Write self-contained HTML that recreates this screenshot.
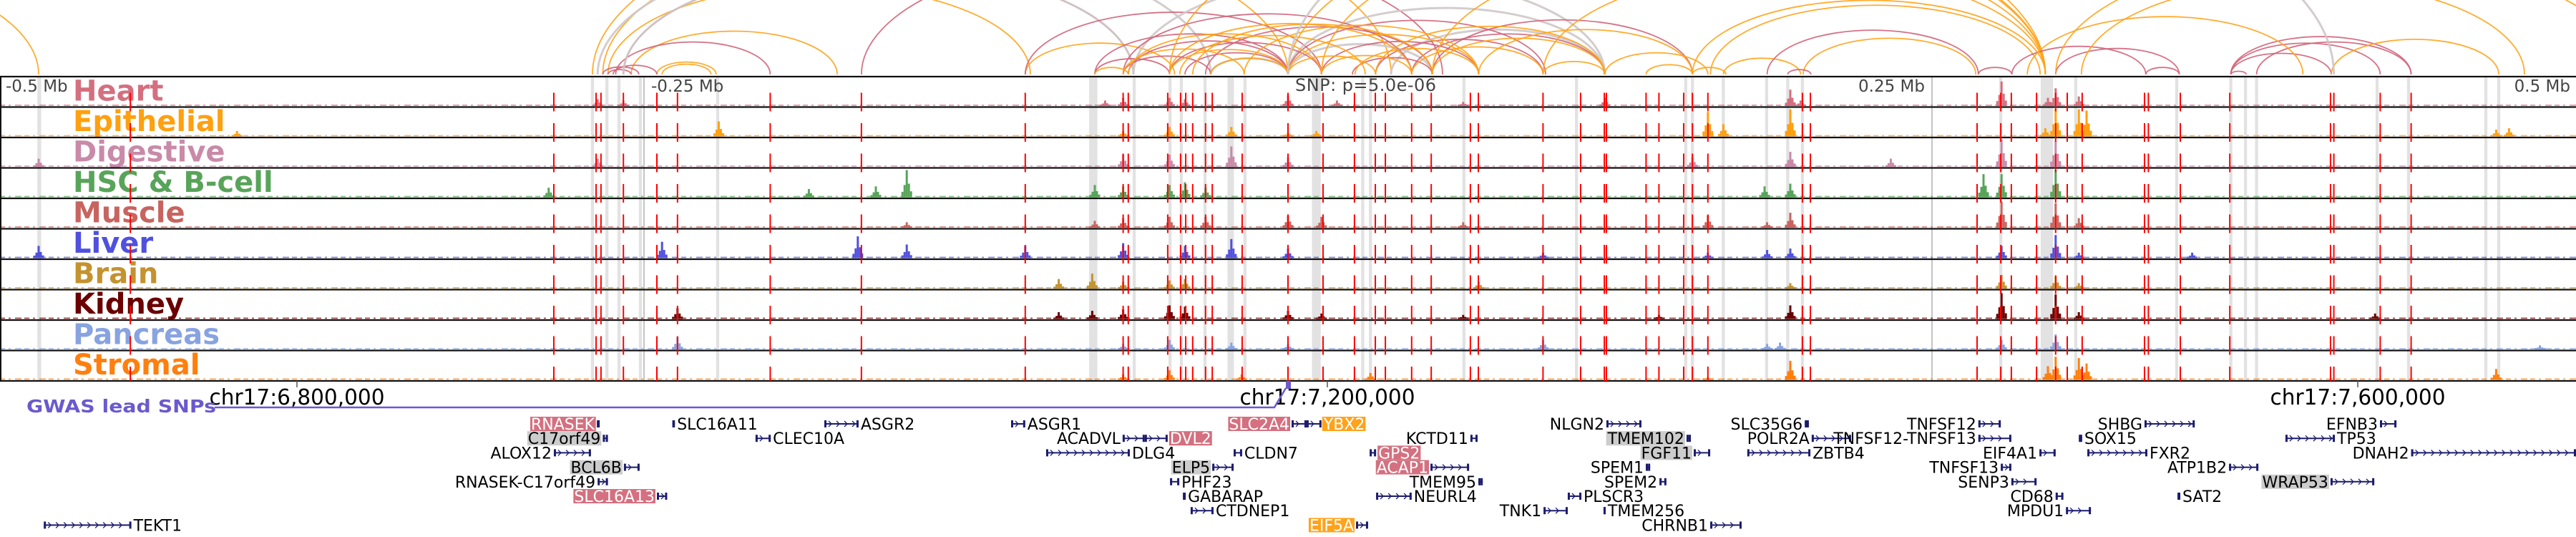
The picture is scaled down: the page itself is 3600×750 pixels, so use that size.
<!DOCTYPE html>
<html><head><meta charset="utf-8">
<style>
html,body{margin:0;padding:0;background:#fff;}
svg{display:block;font-family:"DejaVu Sans","Liberation Sans",sans-serif;}
</style></head>
<body>
<svg id="fig" width="3600" height="750" viewBox="0 0 3600 750" xmlns="http://www.w3.org/2000/svg">
  <g id="arcs"></g>
  <g id="bands"></g>
  <g id="tracks"></g>
  <g id="snps"></g>
  <g id="axes"></g>
  <g id="genes"></g>
</svg>
<script>
// ---- data (positions in kb relative to lead SNP) ----
const trackNames = ["Heart","Epithelial","Digestive","HSC & B-cell","Muscle","Liver","Brain","Kidney","Pancreas","Stromal"];
const trackColors = ["#d46f80","#ffa010","#c98aa8","#58a45a","#c8645f","#5050e0","#c4922e","#6a0000","#88a3e0","#ff7f0e"];
const heartPeaks = [[-268,0.25],[-258,0.2],[-71,0.2],[-64,0.3],[-46,0.3],[-40,0.25],[0,0.4],[19,0.2],[68,0.15],[123,0.3],[195,0.6],[199,0.2],[277,0.9],[295,0.3],[298,0.65],[307,0.35]];
const epithelialPeaks = [[-408,0.2],[-221,0.55],[-64,0.2],[-46,0.35],[-22,0.35],[0,0.15],[11,0.2],[163,0.9],[169,0.45],[195,1.0],[294,0.3],[298,1.0],[307,1.0],[310,0.95],[469,0.25],[474,0.3]];
const digestivePeaks = [[-485,0.3],[-268,0.3],[-64,0.45],[-46,0.45],[-22,0.75],[0,0.35],[157,0.35],[195,0.55],[234,0.3],[277,1.0],[298,0.95]];
const hscPeaks = [[-287,0.35],[-186,0.3],[-160,0.4],[-148,1.0],[-75,0.45],[-64,0.4],[-46,0.45],[-40,0.55],[-32,0.35],[185,0.4],[195,0.5],[270,0.85],[277,0.85],[298,1.0]];
const musclePeaks = [[-148,0.2],[-75,0.25],[-64,0.35],[-46,0.4],[-32,0.4],[0,0.45],[13,0.4],[68,0.2],[163,0.45],[186,0.2],[195,0.55],[277,0.95],[298,0.9],[307,0.35]];
const liverPeaks = [[-485,0.45],[-243,0.6],[-167,0.8],[-148,0.5],[-102,0.45],[-64,0.55],[-40,0.45],[-22,0.7],[0,0.35],[99,0.2],[163,0.2],[186,0.3],[195,0.35],[277,0.45],[298,0.85],[307,0.2],[351,0.2]];
const brainPeaks = [[-89,0.35],[-76,0.55],[-64,0.25],[-46,0.3],[-40,0.35],[74,0.25],[195,0.2],[277,0.5],[298,0.45],[307,0.2]];
const kidneyPeaks = [[-237,0.4],[-89,0.25],[-76,0.3],[-64,0.35],[-46,0.5],[-40,0.45],[0,0.3],[13,0.2],[68,0.15],[144,0.15],[195,0.5],[277,0.95],[298,0.9],[307,0.25],[422,0.2]];
const pancreasPeaks = [[-237,0.45],[-64,0.2],[-46,0.35],[-22,0.25],[0,0.2],[99,0.35],[186,0.2],[191,0.25],[277,0.35],[298,0.55],[486,0.15]];
const stromalPeaks = [[-64,0.2],[-46,0.35],[-18,0.2],[32,0.25],[163,0.1],[195,0.7],[295,0.5],[298,0.85],[307,0.8],[310,0.6],[469,0.4]];
const allPeaks = [heartPeaks,epithelialPeaks,digestivePeaks,hscPeaks,musclePeaks,liverPeaks,brainPeaks,kidneyPeaks,pancreasPeaks,stromalPeaks];

const snpPositions = [-449.4,-285,-268.6,-266.7,-258,-245,-237,-201,-165.6,-102,-64,-62,-46.7,-41.7,-39.7,-37,-32,-29.4,-17.8,0,13.6,25.8,33.9,37.8,48,55.6,70.8,73.9,99,113.6,122.8,123.6,139,144,153.6,157,163,199.7,202.8,267.5,276.7,280.8,290.6,298,302.5,308.3,332.5,334,346.4,365.6,404.7,406,424,436];
const bandRanges = [[-485.5,-484],[-270.6,-269.4],[-265,-263.8],[-260.3,-259.1],[-252,-250.8],[-222,-220.8],[-77.2,-74],[-60.3,-59.1],[-46.4,-45.2],[-42,-40.8],[-32.8,-31.6],[-23.5,-21],[-17.3,-16.1],[9.3,12.7],[28.4,29.6],[31.4,32.6],[67.7,68.9],[111.4,112.6],[153.8,155],[156.4,157.6],[168.4,169.6],[185.2,186.4],[193.4,194.6],[199.1,200.3],[276.1,277.3],[292.2,297],[305.2,306.4],[344.4,345.6],[365.4,366.6],[371.1,372.3],[375.4,376.6],[422.2,423.4],[434.4,435.6],[464.4,465.6],[469.4,470.6]];

const arcStarts = [-700,-270,-266,-264,-255,-245,-243,-261,-266,-264,-262,-258,-268,-258,-165.6,-102,-102,0,-30,0,-60,40,-64,-64,-62,-46,-40,-32,13,25,34,48,56,0,-75,-75,-75,-64,-46,-42,-37,-30,-17,0,0,13,26,34,48,56,74,99,123,139,157,-62,-46,0,-46,13,56,99,157,164,169,200,186,194,268,281,298,333,366,366,366,376,366,405,287,308,0,298];
const arcEnds   = [-485,40,0,-100,-175,-222,-224,-201,-252,-255,-245,-60,-30,-60,60,-44,13,56,0,122.8,123,123,48,-30,0,13,0,56,74,56,99,123,157,100,-46,0,-62,-17,0,30,56,0,74,34,74,48,74,123,99,123,157,123,163,157,170,13,48,294,294,294,294,294,294,292,199,267,268,203,281,333,346,346,405,424,436,436,372,470,394,480,406,520];
const arcTypes  = ["o","o","o","o","o","o","o","p","p","p","p","p","g","g","p","o","p","g","g","g","g","g","p","p","p","p","p","p","p","p","p","p","p","p","p","p","o","o","o","o","o","o","o","o","o","o","o","o","o","o","o","o","o","o","o","o","o","o","o","o","o","o","o","o","o","o","p","p","p","p","p","p","p","p","p","p","p","o","o","o","g","o"];

const relTicks = [-0.5,-0.25,0.25,0.5];
const chrTicks = [6800000,7200000,7600000];
const leadSnpGenomic = 7184722;

// genes: [name, startKb, endKb, row, labelSide, highlight]
const genes = [
 ["TEKT1",-483,-449,7,"r",""],["RNASEK",-268.3,-267.2,0,"l","pink"],["C17orf49",-266,-264,1,"l","gray"],
 ["ALOX12",-285,-270.6,2,"l",""],["BCL6B",-257.8,-251.7,3,"l","gray"],["RNASEK-C17orf49",-268,-264,4,"l",""],
 ["SLC16A13",-245,-241,5,"l","pink"],["SLC16A11",-239,-238,0,"r",""],["CLEC10A",-206.7,-200.8,1,"r",""],
 ["ASGR2",-180,-166.7,0,"r",""],["ASGR1",-107.5,-102,0,"r",""],["SLC2A4",1.4,7.2,0,"l","pink"],
 ["YBX2",7.2,13,0,"r","orange"],["ACADVL",-64.2,-55.6,1,"l",""],["DVL2",-55.6,-46.7,1,"r","pink"],
 ["DLG4",-93.9,-61.4,2,"r",""],["CLDN7",-21.1,-17.8,2,"r",""],["ELP5",-29.4,-21.1,3,"l","gray"],
 ["PHF23",-45.8,-42.2,4,"r",""],["GABARAP",-40.8,-39.7,5,"r",""],["CTDNEP1",-37.8,-28.9,6,"r",""],
 ["EIF5A",26.4,31.1,7,"l","orange"],["KCTD11",70.8,73.6,1,"l",""],["GPS2",31.7,34.2,2,"r","pink"],
 ["ACAP1",55.3,70.3,3,"l","pink"],["TMEM95",73.9,75.6,4,"l",""],["NEURL4",34.2,48,5,"r",""],
 ["NLGN2",123.6,137.2,0,"l",""],["TMEM102",154.7,156.4,1,"l","gray"],["FGF11",157.5,163.9,2,"l","gray"],
 ["SPEM1",138.9,140.6,3,"l",""],["SPEM2",144.2,146.9,4,"l",""],["PLSCR3",108.6,113.9,5,"r",""],
 ["TNK1",99.2,108.6,6,"l",""],["TMEM256",122.5,123.3,6,"r",""],["CHRNB1",163.9,176.1,7,"l",""],
 ["SLC35G6",200.6,202.2,0,"l",""],["POLR2A",203.3,218.6,1,"l",""],["TNFSF12-TNFSF13",268,280.8,1,"l",""],
 ["ZBTB4",178.3,202.8,2,"r",""],["TNFSF12",268,276.7,0,"l",""],["EIF4A1",291.7,298,2,"l",""],
 ["TNFSF13",276.7,280.8,3,"l",""],["SENP3",280.8,290.6,4,"l",""],["CD68",298,301,5,"l",""],
 ["MPDU1",302,311.7,6,"l",""],["SHBG",332.5,352,0,"l",""],["SOX15",307,308.3,1,"r",""],
 ["FXR2",310.3,333.6,2,"r",""],["ATP1B2",365.3,376.7,3,"l",""],["SAT2",345.3,346.4,5,"r",""],
 ["WRAP53",404.7,421.7,4,"l","gray"],["EFNB3",423.9,430.3,0,"l",""],["TP53",387.2,406.4,1,"r",""],
 ["DNAH2",436,520,2,"l",""]
];

// ---- scales ----
const NS = "http://www.w3.org/2000/svg";
const PX_PER_KB = 3.6, X0 = 1800;
function xs(kb){ return X0 + kb*PX_PER_KB; }
const trackTop = 107, trackH = 42.5, nTracks = 10;
function trackBottom(i){ return trackTop + (i+1)*trackH; }
function yRow(r){ return 592 + r*20.2; }
function mk(tag, attrs, parent){
  const e = document.createElementNS(NS, tag);
  for (const k in attrs) e.setAttribute(k, attrs[k]);
  parent.appendChild(e); return e;
}
const arcsG = document.getElementById("arcs");
const bandsG = document.getElementById("bands");
const tracksG = document.getElementById("tracks");
const snpsG = document.getElementById("snps");
const axesG = document.getElementById("axes");
const genesG = document.getElementById("genes");

// ---- arcs ----
const arcColor = {o:"#ffa31a", p:"#d0647a", g:"#cfc8c8"};
const arcWidth = {o:1.8, p:1.8, g:3};
const ARC_BASE = 104;
const clip = mk("clipPath",{id:"arcclip"},arcsG);
mk("rect",{x:0,y:0,width:3600,height:ARC_BASE+1},clip);
const arcLayer = mk("g",{"clip-path":"url(#arcclip)"},arcsG);
for (let i=0;i<arcStarts.length;i++){
  const a = xs(arcStarts[i]), b = xs(arcEnds[i]);
  const w = Math.abs(b-a), h = 0.21*w;
  const p = mk("path",{d:`M${a},${ARC_BASE} A${w/2},${h} 0 0 1 ${b},${ARC_BASE}`, fill:"none", stroke:arcColor[arcTypes[i]], "stroke-width":arcWidth[arcTypes[i]], "stroke-opacity":0.9}, arcLayer);
  
  
}

// ---- gray bands ----
bandRanges.forEach(r=>{
  const x1 = xs(r[0]), x2 = xs(r[1]);
  const e = mk("rect",{x:x1,y:trackTop,width:Math.max(3.5,x2-x1),height:trackH*nTracks,fill:"#e2e2e2"},bandsG);
  
  
});
relTicks.forEach(t=>{
  if (Math.abs(t)<0.4){
    const e = mk("line",{x1:xs(t*1000),x2:xs(t*1000),y1:trackTop,y2:trackTop+trackH*nTracks,stroke:"#888","stroke-width":1},bandsG);
    
    
  }
});

// ---- tracks ----
for (let i=0;i<nTracks;i++){
  const g = mk("g",{},tracksG);
  
  
  const bot = trackBottom(i), col = trackColors[i];
  const base = mk("line",{x1:0,x2:3600,y1:bot-2.6,y2:bot-2.6,stroke:col,"stroke-width":1.6,"stroke-dasharray":"7 5 3 6 9 4",opacity:0.75},g);
  
  
  allPeaks[i].forEach(pk=>{
    const cx = xs(pk[0]), H = pk[1]*38;
    [[0,1],[-3,0.45],[3,0.5],[-6,0.2],[6,0.22]].forEach(s=>{
      const hh = Math.max(2,H*s[1]);
      const b = mk("rect",{x:cx+s[0]-1.5,y:bot-1.5-hh,width:3,height:hh,fill:col},g);
      
      
    });
  });
  const lab = mk("text",{x:102,y:bot-9,"font-size":40,"font-weight":"bold",fill:col},g);
  lab.textContent = trackNames[i];
  
  
}
for (let i=0;i<=nTracks;i++){
  const y = trackTop + i*trackH;
  const e = mk("line",{x1:0,x2:3600,y1:y,y2:y,stroke:"#111","stroke-width":2.2},tracksG);
  
  
}
mk("line",{x1:1,x2:1,y1:trackTop,y2:trackTop+trackH*nTracks,stroke:"#111","stroke-width":2},tracksG);

// ---- SNP markers ----
snpPositions.forEach(p=>{
  const x = xs(p);
  for (let i=0;i<nTracks;i++){
    const bot = trackBottom(i);
    const e = mk("line",{x1:x,x2:x,y1:bot-20,y2:bot+(i<nTracks-1?6:0),stroke:"#ff0000","stroke-width":2},snpsG);
    
    
  }
});

// ---- axes / labels ----
relTicks.forEach(t=>{
  const x = xs(t*1000);
  let tx, anchor;
  if (t===-0.5){ tx=8; anchor="start"; }
  else if (t===0.5){ tx=3592; anchor="end"; }
  else if (t<0){ tx=x+10; anchor="start"; }
  else { tx=x-10; anchor="end"; }
  const e = mk("text",{x:tx,y:128,"font-size":23,fill:"#444","text-anchor":anchor},axesG);
  e.textContent = (t<0?"-":"") + Math.abs(t) + " Mb";
  
  
});
const snpLab = mk("text",{x:xs(0)+10,y:127,"font-size":24,fill:"#444",textLength:197},axesG);
snpLab.textContent = "SNP: p=5.0e-06";



const axisY = trackTop + trackH*nTracks;
chrTicks.forEach(p=>{
  const x = xs((p-leadSnpGenomic)/1000);
  const t = mk("line",{x1:x,x2:x,y1:axisY,y2:axisY+9,stroke:"#555","stroke-width":1.5},axesG);
  
  
  const l = mk("text",{x:x,y:565,"font-size":30,"text-anchor":"middle",fill:"#000",textLength:245,lengthAdjust:"spacingAndGlyphs"},axesG);
  l.textContent = "chr17:" + p.toLocaleString("en-US");
  
  
});
const gw = mk("text",{x:37,y:576,"font-size":25,"font-weight":"bold",fill:"#6a5acd",textLength:265,lengthAdjust:"spacingAndGlyphs"},axesG);
gw.textContent = "GWAS lead SNPs";


const gwl = mk("path",{d:`M300,569 L${xs(0)-19},569 L${xs(0)-3},542`,fill:"none",stroke:"#6a5acd","stroke-width":2.5},axesG);


const gwm = mk("rect",{x:xs(0)-3,y:axisY,width:7,height:11,fill:"#6a5acd"},axesG);



// ---- genes ----
const hlFill = {pink:"#d4707f", orange:"#ffa31a", gray:"#cccccc"};
genes.forEach(gd=>{
  const [name,s,e,row,side,hl] = gd;
  const g = mk("g",{},genesG);
  
  
  const y = yRow(row), x1 = xs(s), x2 = Math.min(3600, xs(e));
  mk("line",{x1:x1,x2:x2,y1:y,y2:y,stroke:"#1c1c6e","stroke-width":2},g);
  mk("rect",{x:x1,y:y-5,width:3,height:10,fill:"#1c1c6e"},g);
  mk("rect",{x:x2-3,y:y-5,width:3,height:10,fill:"#1c1c6e"},g);
  for (let cx=x1+8; cx<x2-6; cx+=11){
    mk("path",{d:`M${cx-2},${y-4} L${cx+2},${y} L${cx-2},${y+4}`,fill:"none",stroke:"#1c1c6e","stroke-width":1.3},g);
  }
  const tx = side==="l" ? x1-3 : x2+3;
  const bg = hl ? mk("rect",{fill:hlFill[hl]},g) : null;
  const t = mk("text",{x:tx,y:y+8,"font-size":22,"text-anchor":side==="l"?"end":"start",fill:(hl==="pink"||hl==="orange")?"#fff":"#000"},g);
  t.textContent = name;
  if (bg){
    const bb = t.getBBox();
    bg.setAttribute("x",bb.x-1); bg.setAttribute("y",y-10);
    bg.setAttribute("width",bb.width+2); bg.setAttribute("height",20);
  }
});
</script>
</body></html>
